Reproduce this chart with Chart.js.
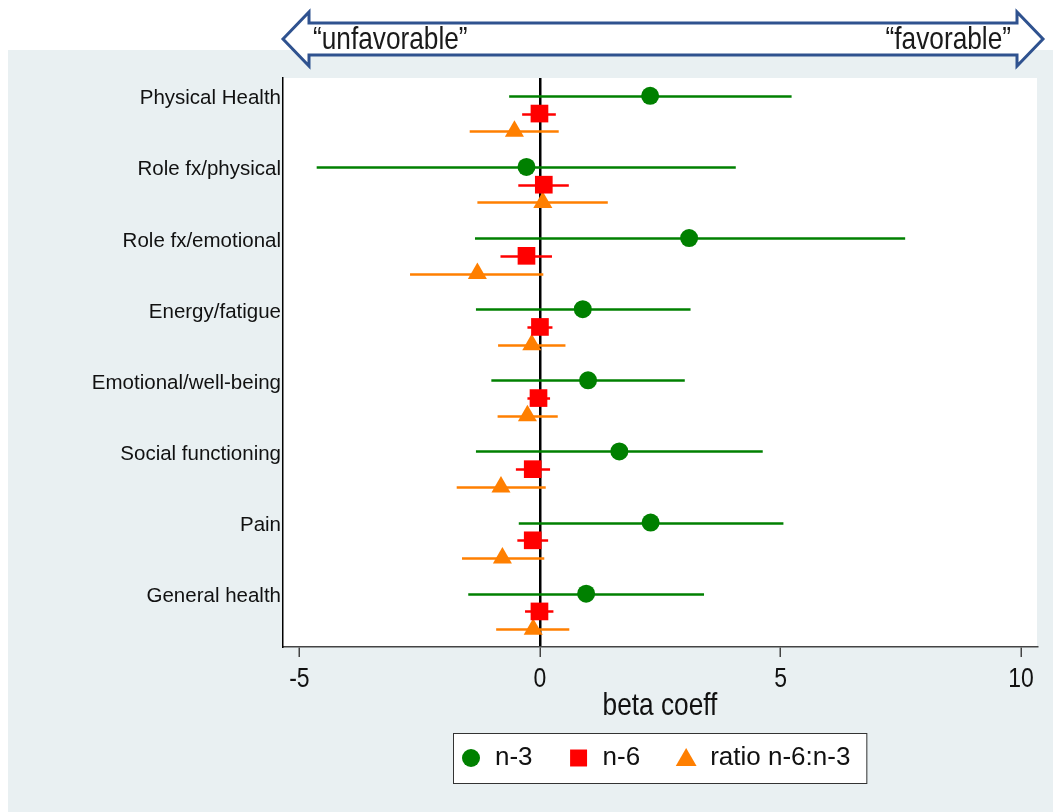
<!DOCTYPE html>
<html>
<head>
<meta charset="utf-8">
<title>beta coeff forest plot</title>
<script src="https://cdn.jsdelivr.net/npm/chart.js@4.4.0/dist/chart.umd.min.js"></script>
<style>
  body { margin: 0; background: #fff; }
  canvas { display: block; }
</style>
</head>
<body>
<canvas id="forestChart" width="1053" height="812"></canvas>
<script>
// SF-36 domains, top to bottom
const categories = ['Physical Health', 'Role fx/physical', 'Role fx/emotional', 'Energy/fatigue',
                    'Emotional/well-being', 'Social functioning', 'Pain', 'General health'];

// n-3: beta and 95% CI
const n3Beta = [2.29, -0.28, 3.10, 0.89, 1.00, 1.65, 2.30, 0.96];
const n3Low  = [-0.64, -4.64, -1.35, -1.33, -1.01, -1.33, -0.44, -1.49];
const n3High = [5.23, 4.07, 7.59, 3.13, 3.01, 4.63, 5.06, 3.41];

// n-6
const n6Beta = [-0.01, 0.08, -0.28, 0.00, -0.03, -0.15, -0.15, -0.01];
const n6Low  = [-0.37, -0.45, -0.82, -0.26, -0.26, -0.50, -0.47, -0.31];
const n6High = [0.33, 0.60, 0.25, 0.26, 0.21, 0.21, 0.17, 0.28];

// ratio n-6:n-3
const ratioBeta = [-0.53, 0.06, -1.30, -0.17, -0.26, -0.81, -0.78, -0.14];
const ratioLow  = [-1.46, -1.30, -2.70, -0.87, -0.88, -1.73, -1.62, -0.91];
const ratioHigh = [0.39, 1.41, 0.07, 0.53, 0.37, 0.12, 0.09, 0.61];

const xTicks = [-5, 0, 5, 10];

const regular = "'Liberation Sans', Arial, sans-serif";

// each series sits at its own slot inside a category row
function points(values, slot) {
    return values.map((v, i) => ({ x: v, y: i + slot }));
}

// no narrow font installed, so squeeze Liberation Sans instead (Arial Narrow is ~0.82 wide)
function narrowText(ctx, text, x, y, size, align) {
    ctx.save();
    ctx.translate(x, y);
    ctx.scale(0.82, 1);
    ctx.font = size + 'px ' + regular;
    ctx.textAlign = align;
    ctx.fillText(text, 0, 0);
    ctx.restore();
}

// draws the horizontal CI lines under the markers
const errorBars = {
    id: 'errorBars',
    beforeDatasetsDraw(chart) {
        const ctx = chart.ctx;
        const x = chart.scales.x;
        const y = chart.scales.y;
        ctx.save();
        chart.data.datasets.forEach(ds => {
            ctx.strokeStyle = ds.borderColor;
            ctx.lineWidth = 2.5;
            ds.data.forEach((p, i) => {
                const py = Math.round(y.getPixelForValue(p.y)) + 0.5;
                ctx.beginPath();
                ctx.moveTo(x.getPixelForValue(ds.low[i]), py);
                ctx.lineTo(x.getPixelForValue(ds.high[i]), py);
                ctx.stroke();
            });
        });
        ctx.restore();
    }
};

// page background, plot region, arrow, narrow axis text and boxed legend
const decorations = {
    id: 'decorations',
    beforeDraw(chart) {
        const ctx = chart.ctx;
        const a = chart.chartArea;
        ctx.save();
        ctx.fillStyle = '#ffffff';
        ctx.fillRect(0, 0, chart.width, chart.height);
        ctx.fillStyle = '#e9f0f2';
        ctx.fillRect(8, 50, chart.width - 8, chart.height - 50);
        ctx.fillStyle = '#ffffff';
        ctx.fillRect(a.left, a.top, a.right - a.left, a.bottom - a.top);

        // double arrow
        const l = 283, r = 1043, mid = 39, headW = 26;
        ctx.beginPath();
        ctx.moveTo(l, mid);
        ctx.lineTo(l + headW, 12);
        ctx.lineTo(l + headW, 23);
        ctx.lineTo(r - headW, 23);
        ctx.lineTo(r - headW, 12);
        ctx.lineTo(r, mid);
        ctx.lineTo(r - headW, 66);
        ctx.lineTo(r - headW, 55);
        ctx.lineTo(l + headW, 55);
        ctx.lineTo(l + headW, 66);
        ctx.closePath();
        ctx.fillStyle = '#ffffff';
        ctx.fill();
        ctx.strokeStyle = '#2f528f';
        ctx.lineWidth = 3;
        ctx.stroke();

        ctx.fillStyle = '#1a1a1a';
        ctx.textBaseline = 'alphabetic';
        narrowText(ctx, '\u201cunfavorable\u201d', 313, 49, 32, 'left');
        narrowText(ctx, '\u201cfavorable\u201d', 1011, 49, 32, 'right');
        ctx.restore();
    },
    afterDraw(chart) {
        const ctx = chart.ctx;
        const a = chart.chartArea;
        const x = chart.scales.x;
        ctx.save();

        // x tick labels and axis title
        ctx.fillStyle = '#111';
        ctx.textBaseline = 'middle';
        x.ticks.forEach(t => {
            narrowText(ctx, String(t.value), x.getPixelForValue(t.value), 679, 28, 'center');
        });
        narrowText(ctx, 'beta coeff', (a.left + a.right) / 2, 706, 32, 'center');

        // legend
        ctx.font = '26px ' + regular;
        const items = chart.data.datasets;
        let w = 18;
        items.forEach((ds, i) => {
            w += 24 + ctx.measureText(ds.label).width;
            if (i < items.length - 1) w += 46;
        });
        w += 16;
        const boxL = Math.round((a.left + a.right) / 2 - w / 2);
        const boxT = 733, boxH = 50;
        ctx.fillStyle = '#ffffff';
        ctx.fillRect(boxL, boxT, w, boxH);
        ctx.strokeStyle = '#333';
        ctx.lineWidth = 1;
        ctx.strokeRect(boxL + 0.5, boxT + 0.5, w, boxH);

        let px = boxL + 18;
        const cy = boxT + boxH / 2;
        items.forEach(ds => {
            ctx.fillStyle = ds.backgroundColor;
            Chart.helpers.drawPoint(ctx, {
                pointStyle: ds.pointStyle, radius: ds.legendRadius, rotation: 0, borderWidth: 0
            }, px, cy + (ds.pointStyle === 'triangle' ? 2 : 0));
            ctx.fillStyle = '#111';
            ctx.textAlign = 'left';
            ctx.textBaseline = 'middle';
            ctx.fillText(ds.label, px + 24, cy);
            px += 24 + ctx.measureText(ds.label).width + 46;
        });
        ctx.restore();
    }
};

new Chart(document.getElementById('forestChart'), {
    type: 'scatter',
    data: {
        datasets: [
            {
                label: 'n-3',
                data: points(n3Beta, 0.25),
                low: n3Low, high: n3High,
                pointStyle: 'circle', pointRadius: 9, legendRadius: 9,
                backgroundColor: '#008000', borderColor: '#008000', borderWidth: 0
            },
            {
                label: 'n-6',
                data: points(n6Beta, 0.5),
                low: n6Low, high: n6High,
                pointStyle: 'rect', pointRadius: 12.5, legendRadius: 12,
                backgroundColor: '#ff0000', borderColor: '#ff0000', borderWidth: 0
            },
            {
                label: 'ratio n-6:n-3',
                data: points(ratioBeta, 0.75),
                low: ratioLow, high: ratioHigh,
                pointStyle: 'triangle', pointRadius: 11, legendRadius: 12,
                backgroundColor: '#ff7f00', borderColor: '#ff7f00', borderWidth: 0
            }
        ]
    },
    options: {
        responsive: false,
        animation: false,
        events: [],
        layout: {
            padding: { top: 78, right: 16, bottom: 89, left: 0 }
        },
        scales: {
            x: {
                type: 'linear',
                min: -5.34,
                max: 10.33,
                afterBuildTicks: axis => {
                    axis.ticks = xTicks.map(v => ({ value: v }));
                },
                afterFit: axis => {
                    axis.height = 76;
                },
                grid: {
                    drawOnChartArea: true,
                    color: c => (c.tick && c.tick.value === 0) ? '#000' : 'rgba(0,0,0,0)',
                    lineWidth: 2.5,
                    tickColor: '#444',
                    tickWidth: 1.5,
                    tickLength: 10
                },
                border: { display: true, color: '#444', width: 1.5 },
                ticks: { display: false }
            },
            y: {
                type: 'linear',
                reverse: true,
                min: 0,
                max: categories.length,
                afterBuildTicks: axis => {
                    // label sits level with the n-3 row
                    axis.ticks = categories.map((c, i) => ({ value: i + 0.29 }));
                },
                afterFit: axis => {
                    axis.width = 283;
                },
                grid: { display: true, drawOnChartArea: false, drawTicks: false },
                border: { display: true, color: '#000', width: 1.5 },
                ticks: {
                    padding: 2,
                    color: '#111',
                    font: { family: regular, size: 20.5 },
                    callback: (value, index) => categories[index]
                }
            }
        },
        plugins: {
            legend: { display: false },
            tooltip: { enabled: false }
        }
    },
    plugins: [decorations, errorBars]
});
</script>
</body>
</html>
